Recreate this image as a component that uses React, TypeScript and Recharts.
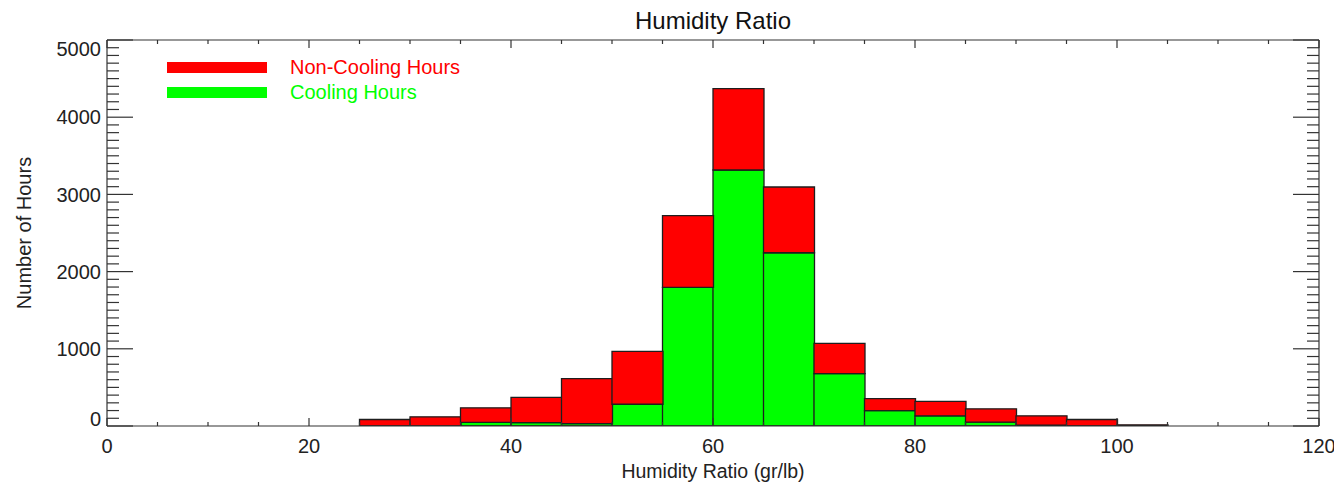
import React from 'react';
import { BarChart, Bar, XAxis, YAxis, Legend, Label } from 'recharts';

// Histogram bins (gr/lb), 5 units wide
const binStarts = [0, 5, 10, 15, 20, 25, 30, 35, 40, 45, 50, 55, 60, 65, 70, 75, 80, 85, 90, 95, 100, 105, 110, 115];
const coolingHours = [0, 0, 0, 0, 0, 0, 0, 48, 45, 31, 282, 1795, 3316, 2244, 678, 200, 132, 50, 10, 0, 0, 0, 0, 0];
const nonCoolingHours = [0, 0, 0, 0, 0, 84, 119, 187, 327, 582, 684, 929, 1055, 852, 391, 155, 188, 172, 122, 84, 15, 0, 0, 0];

// Axis ticks
const xTicks = [0, 5, 10, 15, 20, 25, 30, 35, 40, 45, 50, 55, 60, 65, 70, 75, 80, 85, 90, 95, 100, 105, 110, 115, 120];
const xLabelEvery = 20;
const yTicks = Array.from({ length: 51 }, (_, i) => i * 100);
const yLabelEvery = 1000;
const yMax = 5000;

const data = binStarts.map((lo, i) => ({
  lo,
  cooling: coolingHours[i],
  nonCooling: nonCoolingHours[i],
}));

const FONT = '"Liberation Sans", Arial, Helvetica, sans-serif';
const AXIS = '#333333';
const RED = '#ff0000';
const GREEN = '#00ff00';
const EDGE = '#1e1e1e';

const BottomTick = (props: any) => {
  const { x, y, payload } = props;
  const v = payload.value;
  const major = v % xLabelEvery === 0;
  return (
    <g>
      <line x1={x} x2={x} y1={y} y2={y - (major ? 8 : 4)} stroke={AXIS} strokeWidth={1.2} />
      {major && (
        <text x={x} y={y + 26.5} textAnchor="middle" fontSize={20} fontFamily={FONT} fill="#222">
          {v}
        </text>
      )}
    </g>
  );
};

const TopTick = (props: any) => {
  const { x, y, payload } = props;
  const major = payload.value % xLabelEvery === 0;
  return <line x1={x} x2={x} y1={y} y2={y + (major ? 8 : 4)} stroke={AXIS} strokeWidth={1.2} />;
};

const LeftTick = (props: any) => {
  const { x, y, payload } = props;
  const v = payload.value;
  const major = v % yLabelEvery === 0;
  // keep the end labels inside the frame
  let baseline = y + 7.2;
  if (v === 0) baseline = y;
  if (v === yMax) baseline = y + 16;
  return (
    <g>
      <line x1={x} x2={x + (major ? 26 : 12)} y1={y} y2={y} stroke={AXIS} strokeWidth={1.2} />
      {major && (
        <text x={x - 6} y={baseline} textAnchor="end" fontSize={20} fontFamily={FONT} fill="#222">
          {v}
        </text>
      )}
    </g>
  );
};

const RightTick = (props: any) => {
  const { x, y, payload } = props;
  const major = payload.value % yLabelEvery === 0;
  return <line x1={x} x2={x - (major ? 26 : 12)} y1={y} y2={y} stroke={AXIS} strokeWidth={1.2} />;
};

const legendOrder = ['nonCooling', 'cooling'];

const LegendContent = (props: any) => {
  const items = [...(props.payload || [])].sort(
    (a: any, b: any) => legendOrder.indexOf(a.dataKey) - legendOrder.indexOf(b.dataKey)
  );
  return (
    <div style={{ display: 'flex', flexDirection: 'column' }}>
      {items.map((it: any) => (
        <div key={it.dataKey} style={{ display: 'flex', alignItems: 'center', height: 25 }}>
          <div style={{ width: 100, height: 11, background: it.color }} />
          <span style={{ marginLeft: 23, color: it.color, fontSize: 20, fontFamily: FONT, lineHeight: '25px' }}>
            {it.value}
          </span>
        </div>
      ))}
    </div>
  );
};

export default function App() {
  return (
    <BarChart
      width={1334}
      height={478}
      data={data}
      margin={{ top: 31, right: 22, bottom: 8, left: 0 }}
      barCategoryGap={0}
      barGap={0}
      style={{ fontFamily: FONT }}
    >
      <XAxis
        xAxisId="val"
        dataKey="lo"
        type="number"
        domain={[0, 120]}
        allowDataOverflow
        ticks={xTicks}
        interval={0}
        tickSize={0}
        tickMargin={0}
        tickLine={false}
        tick={<BottomTick />}
        height={52}
        stroke={AXIS}
        strokeWidth={1.2}
      >
        <Label
          content={(p: any) => (
            <text
              x={p.viewBox.x + p.viewBox.width / 2}
              y={p.viewBox.y + 52}
              textAnchor="middle"
              fontSize={19.5}
              fontFamily={FONT}
              fill="#222"
            >
              Humidity Ratio (gr/lb)
            </text>
          )}
        />
      </XAxis>
      <XAxis
        xAxisId="frameTop"
        orientation="top"
        dataKey="lo"
        type="number"
        domain={[0, 120]}
        allowDataOverflow
        ticks={xTicks}
        interval={0}
        tickSize={0}
        tickMargin={0}
        tickLine={false}
        tick={<TopTick />}
        height={1}
        stroke={AXIS}
        strokeWidth={1.2}
      >
        <Label
          content={(p: any) => (
            <text
              x={p.viewBox.x + p.viewBox.width / 2}
              y={p.viewBox.y - 10}
              textAnchor="middle"
              fontSize={24}
              fontFamily={FONT}
              fill="#111"
            >
              Humidity Ratio
            </text>
          )}
        />
      </XAxis>
      <XAxis xAxisId="bins" dataKey="lo" type="category" hide height={0} />
      <YAxis
        yAxisId="left"
        domain={[0, yMax]}
        allowDataOverflow
        ticks={yTicks}
        interval={0}
        tickSize={0}
        tickMargin={0}
        tickLine={false}
        tick={<LeftTick />}
        width={99}
        stroke={AXIS}
        strokeWidth={1.2}
      >
        <Label
          content={(p: any) => {
            const cx = p.viewBox.x + 16;
            const cy = p.viewBox.y + p.viewBox.height / 2;
            return (
              <text
                x={cx}
                y={cy}
                transform={`rotate(-90 ${cx} ${cy})`}
                textAnchor="middle"
                dominantBaseline="central"
                fontSize={20}
                fontFamily={FONT}
                fill="#222"
              >
                Number of Hours
              </text>
            );
          }}
        />
      </YAxis>
      <YAxis
        yAxisId="right"
        orientation="right"
        dataKey="cooling"
        domain={[0, yMax]}
        allowDataOverflow
        ticks={yTicks}
        interval={0}
        tickSize={0}
        tickMargin={0}
        tickLine={false}
        tick={<RightTick />}
        width={1}
        stroke={AXIS}
        strokeWidth={1.2}
      />
      <Legend
        layout="vertical"
        align="center"
        verticalAlign="middle"
        content={<LegendContent />}
        wrapperStyle={{ top: 46.5, left: 159, width: 'auto' }}
      />
      <Bar
        xAxisId="bins"
        yAxisId="left"
        dataKey="cooling"
        name="Cooling Hours"
        stackId="hours"
        fill={GREEN}
        stroke={EDGE}
        strokeWidth={1.3}
        isAnimationActive={false}
      />
      <Bar
        xAxisId="bins"
        yAxisId="left"
        dataKey="nonCooling"
        name="Non-Cooling Hours"
        stackId="hours"
        fill={RED}
        stroke={EDGE}
        strokeWidth={1.3}
        isAnimationActive={false}
      />
    </BarChart>
  );
}
